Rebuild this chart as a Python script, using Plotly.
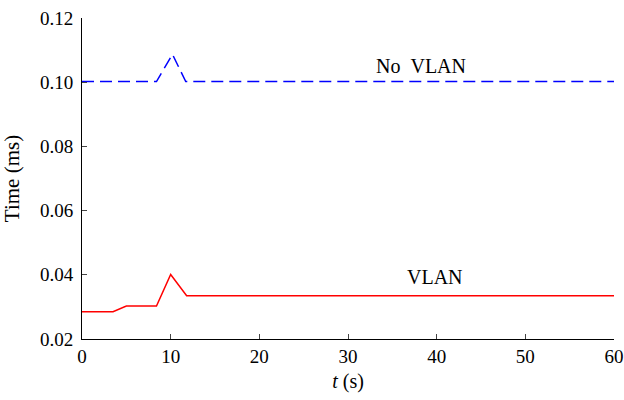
import plotly.graph_objects as go

t_vlan = [0, 3.5, 5.0, 8.4, 10.0, 11.8, 60]
y_vlan = [0.0285, 0.0285, 0.0303, 0.0303, 0.0401, 0.0335, 0.0335]
t_novlan = [0, 8.4, 10.2, 11.7, 60]
y_novlan = [0.1002, 0.1002, 0.1087, 0.1002, 0.1002]
x_ticks = [0, 10, 20, 30, 40, 50, 60]
y_ticks = [0.02, 0.04, 0.06, 0.08, 0.10, 0.12]
y_ticklabels = ["0.02", "0.04", "0.06", "0.08", "0.10", "0.12"]

font = "Liberation Serif, Times New Roman, serif"

fig = go.Figure()
fig.add_trace(go.Scatter(x=t_novlan, y=y_novlan, mode="lines",
                         line=dict(color="#0000ff", width=1.5, dash="12px,6px"),
                         showlegend=False, hoverinfo="skip"))
fig.add_trace(go.Scatter(x=t_vlan, y=y_vlan, mode="lines",
                         line=dict(color="#ff0000", width=1.5),
                         showlegend=False, hoverinfo="skip"))
fig.add_annotation(x=38.2, y=0.105, text="No&nbsp;&nbsp;VLAN", showarrow=False,
                   font=dict(family=font, size=20, color="black"))
fig.add_annotation(x=39.8, y=0.0393, text="VLAN", showarrow=False,
                   font=dict(family=font, size=20, color="black"))

fig.update_layout(
    width=624, height=400,
    margin=dict(l=82, r=10, t=18, b=61),
    paper_bgcolor="white", plot_bgcolor="white",
    font=dict(family=font, size=19, color="black"),
    xaxis=dict(range=[0, 60], tickvals=x_ticks, ticks="inside", ticklen=5,
               showline=True, linecolor="black", linewidth=1, showgrid=False,
               zeroline=False, tickfont=dict(size=19), automargin=False,
               ticklabeloverflow="allow",
               title=dict(text="<i>t</i> (s)", font=dict(size=20), standoff=8)),
    yaxis=dict(range=[0.02, 0.12], tickvals=y_ticks, ticktext=y_ticklabels,
               ticks="inside", ticklen=5, ticklabelstandoff=4,
               ticklabeloverflow="allow",
               showline=True, linecolor="black", linewidth=1, showgrid=False,
               zeroline=False, tickfont=dict(size=19), automargin=False,
               title=dict(text="Time (ms)", font=dict(size=21), standoff=17)),
)
fig.write_html("out.html",
               config={"displayModeBar": False},
               post_script="document.body.style.margin='0';document.body.style.overflow='hidden';")
